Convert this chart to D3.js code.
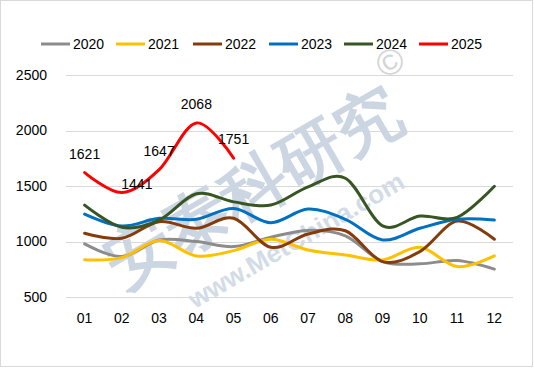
<!DOCTYPE html>
<html>
<head>
<meta charset="utf-8">
<script src="https://cdn.jsdelivr.net/npm/d3@7"></script>
<style>
  body { margin: 0; background: #fff; }
  text { font-family: "Liberation Sans", Arial, sans-serif; }
</style>
</head>
<body>
<div id="plot_div"></div>
<script>
const width  = 534;
const height = 368;
var margin = {top: 75, right: 21, bottom: 71, left: 66}

// months and series
const months = ["01","02","03","04","05","06","07","08","09","10","11","12"];
const years  = ["2020","2021","2022","2023","2024","2025"];
const colors = ["#8c8c8c","#ffc000","#843c0c","#0070c0","#375623","#ff0000"];

const v2020 = [978, 864, 1014, 999, 954, 1038, 1100, 1050, 819, 799, 828, 751];
const v2021 = [835, 855, 1008, 870, 918, 1020, 924, 879, 834, 948, 774, 870];
const v2022 = [1074, 1029, 1178, 1119, 1209, 948, 1068, 1097, 819, 909, 1184, 1020];
const v2023 = [1247, 1140, 1209, 1200, 1298, 1169, 1292, 1200, 1014, 1119, 1200, 1193];
const v2024 = [1328, 1128, 1193, 1430, 1357, 1328, 1492, 1570, 1140, 1229, 1217, 1498];
const v2025 = [1621, 1441, 1647, 2068, 1751];

const yTicks = [500, 1000, 1500, 2000, 2500];

const series = [v2020, v2021, v2022, v2023, v2024, v2025];

const svg = d3.create("svg")
      .attr("width", width)
      .attr("height", height)
      .attr("viewBox", [0, 0, width, height])

// chart border
svg.append("rect")
    .attr("x", 0.5).attr("y", 0.5)
    .attr("width", 532).attr("height", 366)
    .attr("fill", "#fff")
    .attr("stroke", "#d9d9d9")

const x = d3.scalePoint()
      .domain(months)
      .range([margin.left, width - margin.right])
      .padding(0.5);

const y = d3.scaleLinear()
      .domain([500, 2500])
      .range([height - margin.bottom, margin.top]);

// grid lines
svg.append("g")
    .selectAll("line")
    .data(yTicks)
    .join("line")
    .attr("x1", margin.left)
    .attr("x2", width - margin.right)
    .attr("y1", d => Math.round(y(d)) + 0.5)
    .attr("y2", d => Math.round(y(d)) + 0.5)
    .attr("stroke", "#d9d9d9")
    .attr("stroke-width", 1);

// watermark
const wm = svg.append("g");
wm.append("text")
    .attr("transform", "translate(253,186) rotate(-30)")
    .attr("text-anchor", "middle")
    .attr("dy", "0.35em")
    .attr("font-family", "Noto Sans CJK SC")
    .attr("font-weight", "bold")
    .attr("font-size", 66)
    .attr("fill", "#ccd6e2")
    .text("安泰科研究");
wm.append("text")
    .attr("transform", "translate(296,240) rotate(-30)")
    .attr("text-anchor", "middle")
    .attr("dy", "0.35em")
    .attr("font-family", "DejaVu Sans")
    .attr("font-weight", "bold")
    .attr("font-size", 26)
    .attr("fill", "#d3dce6")
    .text("www.MetChina.com");
wm.append("text")
    .attr("transform", "translate(390,62) rotate(-30)")
    .attr("text-anchor", "middle")
    .attr("dy", "0.35em")
    .attr("font-family", "DejaVu Sans")
    .attr("font-size", 36)
    .attr("fill", "#d4d4d4")
    .text("©");

// y axis labels
svg.append("g")
    .selectAll("text")
    .data(yTicks)
    .join("text")
    .attr("x", 47)
    .attr("y", d => y(d))
    .attr("dy", "0.35em")
    .attr("text-anchor", "end")
    .attr("font-size", 14)
    .attr("fill", "#000")
    .text(d => d);

// x axis labels
svg.append("g")
    .selectAll("text")
    .data(months)
    .join("text")
    .attr("x", d => x(d))
    .attr("y", 318)
    .attr("dy", "0.35em")
    .attr("text-anchor", "middle")
    .attr("font-size", 14)
    .attr("fill", "#000")
    .text(d => d);

// lines
const line = d3.line()
      .x((d, i) => x(months[i]))
      .y(d => y(d))
      .curve(d3.curveCatmullRom.alpha(0));

svg.append("g")
    .selectAll("path")
    .data(series)
    .join("path")
    .attr("d", d => line(d))
    .attr("fill", "none")
    .attr("stroke", (d, i) => colors[i])
    .attr("stroke-width", 3)
    .attr("stroke-linejoin", "round")
    .attr("stroke-linecap", "round");

// data labels for 2025
svg.append("g")
    .selectAll("text")
    .data(v2025)
    .join("text")
    .attr("x", (d, i) => x(months[i]) + (i == 1 ? 15 : 0))
    .attr("y", (d, i) => y(d) + (i == 1 ? -4 : -14))
    .attr("text-anchor", "middle")
    .attr("font-size", 14)
    .attr("fill", "#000")
    .text(d => d);

// legend
const legendX = [41, 116, 193, 269, 344, 419];
const legend = svg.append("g")
    .selectAll("g")
    .data(years)
    .join("g")
    .attr("transform", (d, i) => `translate(${legendX[i]},44)`);
legend.append("line")
    .attr("x1", 0).attr("x2", 29)
    .attr("stroke", (d, i) => colors[i])
    .attr("stroke-width", 3);
legend.append("text")
    .attr("x", 32)
    .attr("dy", "0.35em")
    .attr("font-size", 14)
    .attr("fill", "#000")
    .text(d => d);

plot_div.append(svg.node());
</script>
</body>
</html>
